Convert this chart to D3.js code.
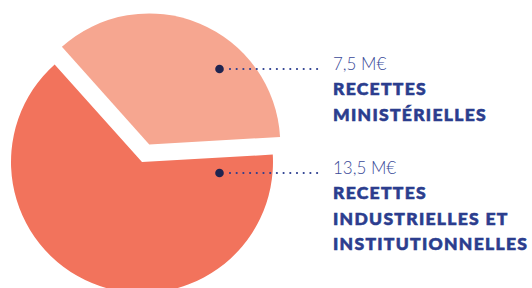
<!DOCTYPE html>
<html>
<head>
<meta charset="utf-8">
<script src="https://cdn.jsdelivr.net/npm/d3@7"></script>
<style>
	body { margin: 0; background: #fff; }
	.value { font-family: Lato, sans-serif; font-weight: 300; font-size: 17px; fill: #3a4a98; }
	.label { font-family: Lato, sans-serif; font-weight: 900; font-size: 17.5px; fill: #2b3d8e; stroke: #2b3d8e; stroke-width: 0.6px; letter-spacing: 1.3px; }
</style>
</head>
<body>
<div id="chart"></div>
<script>
var categories = ["RECETTES MINISTÉRIELLES", "RECETTES INDUSTRIELLES ET INSTITUTIONNELLES"];
var values = [7.5, 13.5];
var valueLabels = ["7,5 M€", "13,5 M€"];
var labelLines = [["RECETTES", "MINISTÉRIELLES"], ["RECETTES", "INDUSTRIELLES ET", "INSTITUTIONNELLES"]];
var colors = ["#f6a690", "#f2735c"];

var width = 532,
	height = 288,
	cx = 142,
	cy = 162,
	radius = 131,
	explode = 19;

var data = categories.map(function(c, i) {
	return {name: c, value: values[i], text: valueLabels[i], lines: labelLines[i]};
});

var svg = d3.select("#chart").append("svg")
	.attr("width", width)
	.attr("height", height);

// small slice sits on the upper right, pulled out along its bisector
var pie = d3.pie()
	.sort(null)
	.value(function(d) { return d.value; })
	.startAngle(-0.73)
	.endAngle(-0.73 + 2 * Math.PI);

var arc = d3.arc().innerRadius(0).outerRadius(radius);

var g = svg.append("g").attr("transform", "translate(" + cx + "," + cy + ")");

g.selectAll("path")
	.data(pie(data))
	.enter().append("path")
	.attr("fill", function(d, i) { return colors[i]; })
	.attr("d", arc)
	.attr("transform", function(d, i) {
		if (i != 0) return null;
		var a = (d.startAngle + d.endAngle) / 2;
		return "translate(" + (Math.sin(a) * explode) + "," + (-Math.cos(a) * explode) + ")";
	});

// labels on the right
var leaderY = [69, 173],
	dotX = 219.5,
	lineStart = 230,
	lineEnd = 318,
	textX = 333,
	lineGap = 25.5;

var lab = svg.selectAll("g.lab")
	.data(data)
	.enter().append("g")
	.attr("class", "lab")
	.attr("transform", function(d, i) { return "translate(0," + leaderY[i] + ")"; });

lab.append("line")
	.attr("x1", lineStart)
	.attr("x2", lineEnd)
	.attr("y1", 0)
	.attr("y2", 0)
	.attr("stroke", "#2b3d8e")
	.attr("stroke-width", 2.2)
	.attr("stroke-linecap", "round")
	.attr("stroke-dasharray", "0 6.7");

lab.append("circle")
	.attr("cx", dotX)
	.attr("r", 4.3)
	.attr("fill", "#1f2450");

lab.append("text")
	.attr("class", "value")
	.attr("x", textX)
	.attr("y", 1)
	.text(function(d) { return d.text; });

lab.each(function(d) {
	d3.select(this).selectAll("text.label")
		.data(d.lines)
		.enter().append("text")
		.attr("class", "label")
		.attr("x", textX)
		.attr("y", function(t, j) { return 1 + lineGap * (j + 1) - 0.5; })
		.text(function(t) { return t; });
});
</script>
</body>
</html>
